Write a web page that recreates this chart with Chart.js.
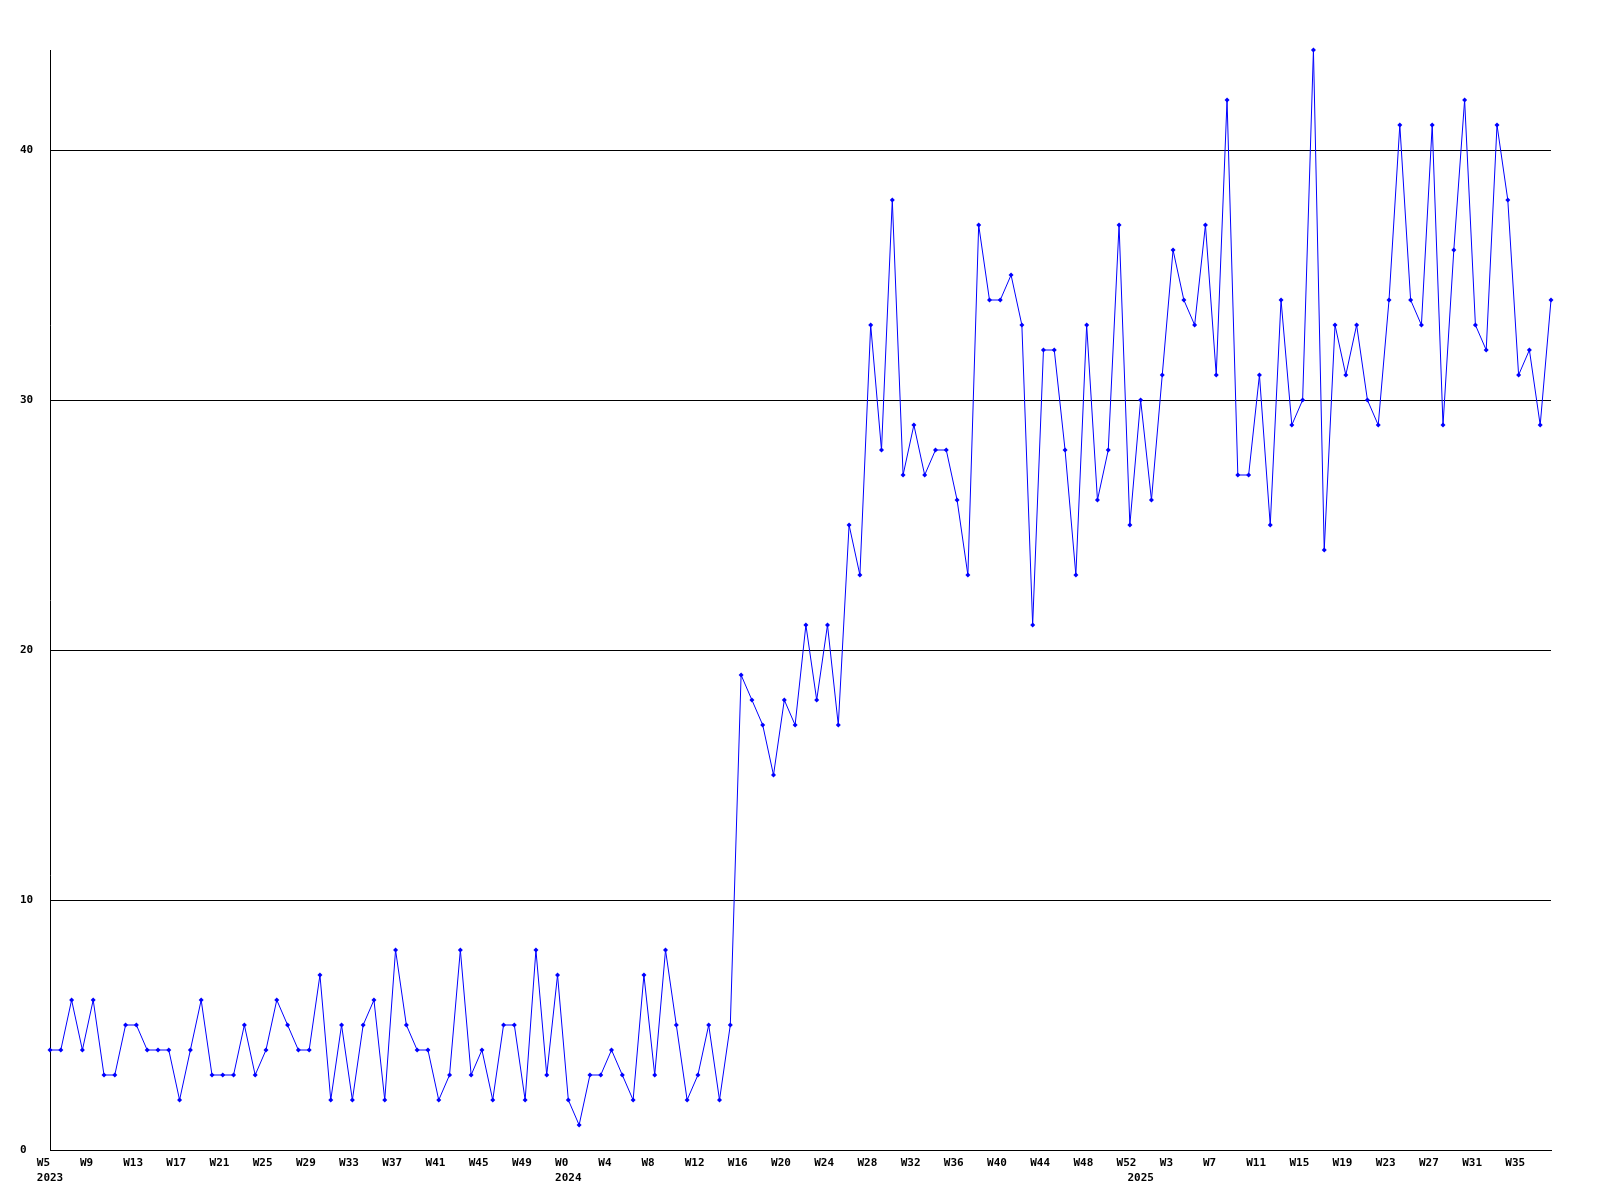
<!DOCTYPE html>
<html>
<head>
<meta charset="utf-8">
<script src="https://cdn.jsdelivr.net/npm/chart.js@4.4.1/dist/chart.umd.min.js"></script>
<style>
  html, body { margin: 0; padding: 0; background: #fff; }
  #wrap { width: 1600px; height: 1200px; }
</style>
</head>
<body>
<div id="wrap"><canvas id="chart" width="1600" height="1200"></canvas></div>
<script>
// ===== DATA =====
// year, first week, last week shown
const yearSpans = [[2023, 5, 52], [2024, 0, 52], [2025, 0, 38]];
const yTicks = [0, 10, 20, 30, 40];
const values = [
  4, 4, 6, 4, 6, 3, 3, 5, 5, 4,
  4, 4, 2, 4, 6, 3, 3, 3, 5, 3,
  4, 6, 5, 4, 4, 7, 2, 5, 2, 5,
  6, 2, 8, 5, 4, 4, 2, 3, 8, 3,
  4, 2, 5, 5, 2, 8, 3, 7, 2, 1,
  3, 3, 4, 3, 2, 7, 3, 8, 5, 2,
  3, 5, 2, 5,
  19, 18, 17, 15, 18, 17, 21, 18, 21, 17,
  25, 23, 33, 28, 38, 27, 29, 27, 28, 28,
  26, 23, 37, 34, 34,
  35, 33, 21, 32, 32, 28, 23, 33, 26, 28,
  37, 25, 30, 26, 31, 36, 34, 33, 37, 31,
  42, 27, 27, 31, 25,
  34, 29, 30, 44, 24, 33, 31, 33, 30, 29,
  34, 41, 34, 33, 41, 29, 36, 42, 33, 32,
  41, 38, 31, 32, 29, 34
];

// category labels: "W5", ... and the year at each year's first week
const weeks = [], yearStart = {};
yearSpans.forEach(([y, a, b]) => {
  yearStart[weeks.length] = String(y);
  for (let w = a; w <= b; w++) weeks.push('W' + w);
});

const FONT = { family: 'DejaVu Sans Mono', size: 11, weight: 'bold', lineHeight: 1.4 };

// tick label: every 4th week, left edge two chars before the point (pad to 4 chars, centred)
function xLabel(i) {
  const w = i % 4 === 0 ? weeks[i].padEnd(4) : '';
  if (yearStart[i]) return [w, yearStart[i]];
  return w;
}

new Chart(document.getElementById('chart'), {
  type: 'line',
  data: {
    labels: weeks,
    datasets: [{
      data: values,
      borderColor: '#0000ff',
      backgroundColor: '#0000ff',
      borderWidth: 1,
      tension: 0,
      pointStyle: 'rectRot',
      pointRadius: 2.5,
      pointBorderWidth: 0,
      pointBackgroundColor: '#0000ff',
      clip: false
    }]
  },
  options: {
    responsive: false,
    animation: false,
    layout: { padding: { left: 20, top: 50, right: 49, bottom: 0 } },
    plugins: { legend: { display: false }, tooltip: { enabled: false } },
    scales: {
      x: {
        offset: false,
        grid: { display: false, drawTicks: false },
        border: { color: '#000', width: 1 },
        ticks: {
          autoSkip: false, maxRotation: 0, minRotation: 0,
          padding: 5, color: '#000', font: FONT,
          callback: (v, i) => xLabel(i)
        },
        afterFit: s => { s.height = 50; }
      },
      y: {
        min: 0, max: 44,
        grid: { color: '#000', lineWidth: 1, drawTicks: false },
        border: { color: '#000', width: 1 },
        ticks: { stepSize: 10, crossAlign: 'far', padding: 0, color: '#000', font: FONT },
        afterBuildTicks: s => { s.ticks = s.ticks.filter(t => yTicks.includes(t.value)); },
        afterFit: s => { s.width = 30; }
      }
    }
  }
});
</script>
</body>
</html>
